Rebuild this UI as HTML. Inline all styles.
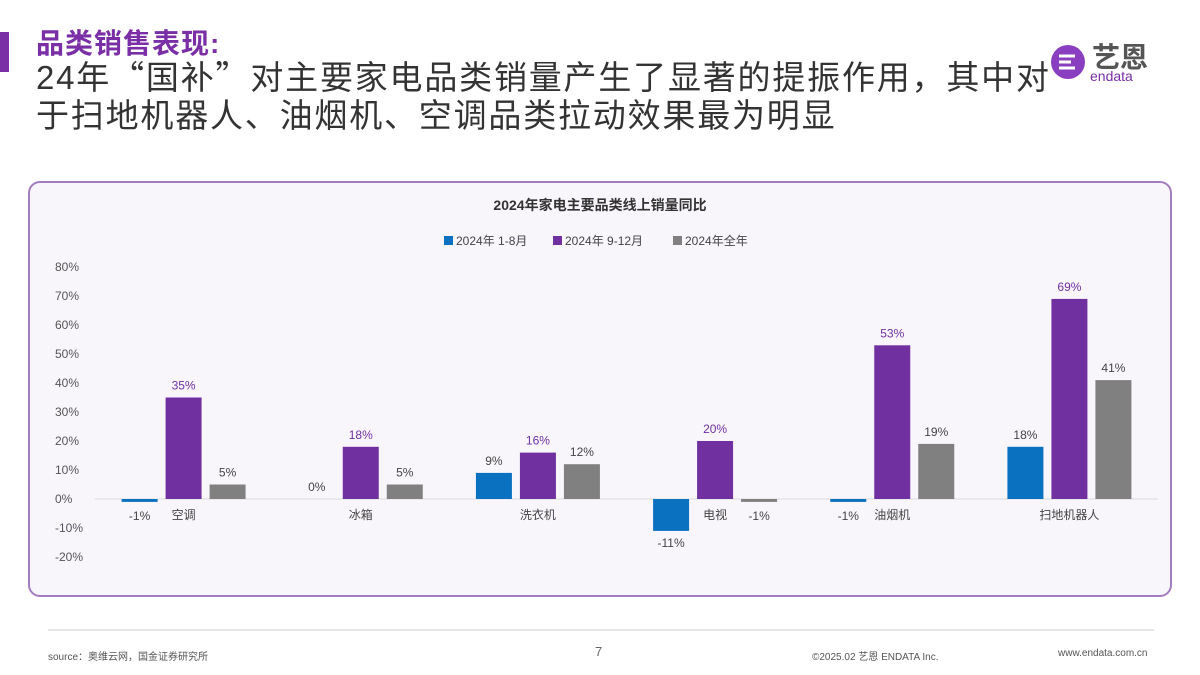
<!DOCTYPE html>
<html><head><meta charset="utf-8">
<style>
body{margin:0;width:1200px;height:675px;background:#fff;font-family:"Liberation Sans","Noto Sans CJK SC",sans-serif;position:relative;overflow:hidden}
.abs{position:absolute}
.q{font-family:"Noto Sans CJK SC",sans-serif}
</style></head><body>
<div class="abs" style="left:0;top:32px;width:9px;height:40px;background:#7a2fa6"></div>
<div class="abs" style="left:36px;top:22px;font-size:28px;font-weight:bold;color:#7a2fa6;letter-spacing:1px">品类销售表现:</div>
<div class="abs" style="left:36px;top:56px;font-size:33px;line-height:38px;color:#333;width:1100px;letter-spacing:1.8px;white-space:nowrap">24年<span class="q">“</span>国补<span class="q">”</span>对主要家电品类销量产生了显著的提振作用，其中对<br>于扫地机器人、油烟机、空调品类拉动效果最为明显</div>
<div class="abs" style="left:1048px;top:38px;width:120px;height:50px">
<svg width="40" height="40" style="position:absolute;left:0;top:4px"><circle cx="20" cy="20" r="17" fill="#8a3fc0"/><path d="M11 14h16M11 20h12M11 26h16" stroke="#fff" stroke-width="3"/></svg>
<div class="abs" style="left:44px;top:-2px;font-size:28px;font-weight:bold;color:#555">艺恩</div>
<div class="abs" style="left:42px;top:30px;font-size:14px;color:#7a2fa6">endata</div>
</div>
<div class="abs" style="left:28px;top:181px;width:1140px;height:412px;border:2px solid #a47cc0;border-radius:12px;background:#f9f6fb"></div>
<svg class="abs" style="left:0;top:0" width="1200" height="675" id="chart"></svg>
<div class="abs" style="left:48px;top:629px;width:1106px;height:2px;background:#e6e6e6"></div>
<div class="abs" style="left:48px;top:648px;font-size:10px;color:#555">source：奥维云网，国金证券研究所</div>
<div class="abs" style="left:595px;top:644px;font-size:13px;color:#666">7</div>
<div class="abs" style="left:812px;top:648px;font-size:10px;color:#555">©2025.02 艺恩 ENDATA Inc.</div>
<div class="abs" style="left:1058px;top:648px;font-size:10px;color:#555">www.endata.com.cn</div>
<script>
const categories=["空调","冰箱","洗衣机","电视","油烟机","扫地机器人"];
const seriesNames=["2024年 1-8月","2024年 9-12月","2024年全年"];
const s1=[-1,0,9,-11,-1,18];
const s2=[35,18,16,20,53,69];
const s3=[5,5,12,-1,19,41];
const yTicks=[80,70,60,50,40,30,20,10,0,-10,-20];
const colors=["#0a70c0","#7030a0","#808080"];
const series=[s1,s2,s3];
const svg=document.getElementById('chart');
const NS="http://www.w3.org/2000/svg";
const x0=95,x1=1158,yZero=499,pxPer=2.9;
const y=v=>yZero-v*pxPer;
const bw=(x1-x0)/categories.length;
function el(t,a,txt){const e=document.createElementNS(NS,t);for(const k in a)e.setAttribute(k,a[k]);if(txt!==undefined)e.textContent=txt;svg.appendChild(e);return e;}
let t=el('text',{x:600,y:210,'text-anchor':'middle','font-size':14,'font-weight':'bold',fill:'#333'},"2024年家电主要品类线上销量同比");


const lx=[444,553,673];
seriesNames.forEach((n,i)=>{
 const r=el('rect',{x:lx[i],y:236,width:9,height:9,fill:colors[i]});
 
 
 const tx=el('text',{x:lx[i]+12,y:245,'font-size':12,fill:'#444'},n);
 
 
});
yTicks.forEach(v=>{
 const tx=el('text',{x:55,y:y(v)+4,'font-size':12,fill:'#555'},v+"%");
 
 
});
const ax=el('line',{x1:x0,x2:x1,y1:yZero,y2:yZero,stroke:'#d9d9d9','stroke-width':1});


categories.forEach((c,ci)=>{
 const cx=x0+bw*(ci+0.5);
 series.forEach((s,si)=>{
  const v=s[ci];const bx=cx+(si-1)*44-18;
  const top=Math.min(y(v),yZero),h=Math.abs(y(v)-yZero);
  const r=el('rect',{x:bx,y:top,width:36,height:Math.max(h,v===0?0:2),fill:colors[si]});
  
  
  const ly=v>=0?y(v)-8:y(v)+16;
  const tx=el('text',{x:bx+18,y:v<0&&v>-3?yZero+21:ly,'text-anchor':'middle','font-size':12,fill:si===1?'#7030a0':'#444'},v+"%");
  
  
 });
 const cl=el('text',{x:cx,y:yZero+20,'text-anchor':'middle','font-size':12,fill:'#444'},c);
 
 
});
</script>
</body></html>
